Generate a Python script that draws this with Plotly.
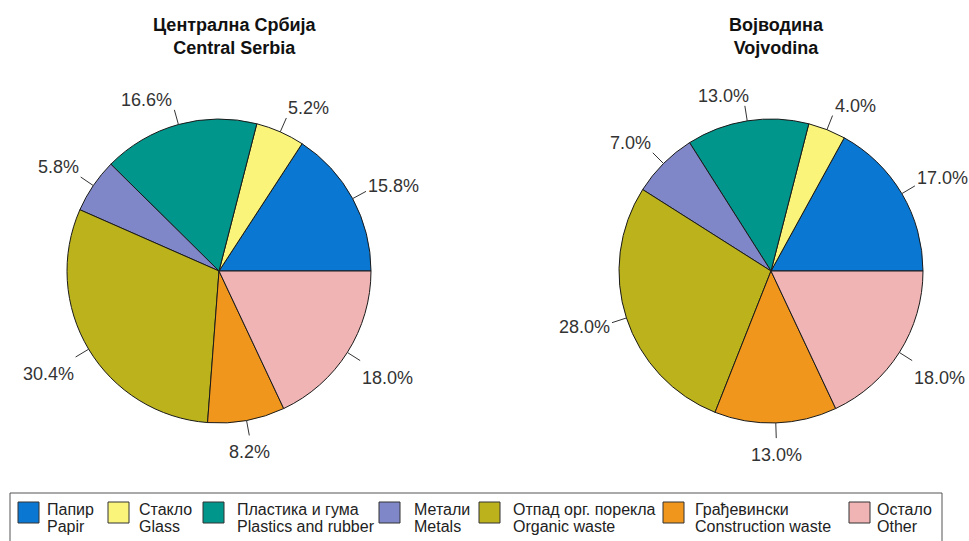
import math
import plotly.graph_objects as go

# ---------------- data ----------------
categories_sr = ["Папир", "Стакло", "Пластика и гума", "Метали",
                 "Отпад орг. порекла", "Грађевински", "Остало"]
categories_en = ["Papir", "Glass", "Plastics and rubber", "Metals",
                 "Organic waste", "Construction waste", "Other"]
central_serbia = [15.8, 5.2, 16.6, 5.8, 30.4, 8.2, 18.0]
vojvodina = [17.0, 4.0, 13.0, 7.0, 28.0, 13.0, 18.0]
titles_sr = ["Централна Србија", "Војводина"]
titles_en = ["Central Serbia", "Vojvodina"]

# ---------------- styling / layout ----------------
colors = ["#0A78D2", "#FAF57A", "#00968C", "#7F87C8",
          "#BBB21C", "#F0961C", "#F0B4B4"]
W, H = 969, 541
R = 152
centers = [(219, 271), (771, 271)]
title_x = [235, 776]
FONT = "Liberation Sans, Arial, Helvetica, sans-serif"
legend_swatch_x = [18, 108, 203, 379, 479, 663, 849]
legend_text_x = [45, 137, 235, 412, 511, 693, 875]


def fx(x):
    return x / W


def fy(y):
    return 1 - y / H


def clip(v, lo, hi):
    return max(lo, min(hi, v))


def text_width(s, size=18):
    w = 0.0
    for ch in s:
        if ch.isdigit():
            w += 0.556
        elif ch == ".":
            w += 0.278
        elif ch == "%":
            w += 0.889
        else:
            w += 0.556
    return w * size


fig = go.Figure()
shapes = []
annotations = []

for (cx, cy), values, tsr, ten, tx in zip(centers, [central_serbia, vojvodina],
                                           titles_sr, titles_en, title_x):
    total = sum(values)
    fig.add_trace(go.Pie(
        values=values,
        labels=categories_en,
        sort=False,
        direction="counterclockwise",
        rotation=90 - 360 * values[0] / total,
        textinfo="none",
        hoverinfo="label+percent",
        marker=dict(colors=colors, line=dict(color="#1a1a1a", width=1)),
        domain=dict(x=[fx(cx - R), fx(cx + R)], y=[fy(cy + R), fy(cy - R)]),
        showlegend=False,
    ))
    cum = 0.0
    for v in values:
        th = 2 * math.pi * (cum + v / 2) / total
        cum += v
        c, s = math.cos(th), math.sin(th)
        x0, y0 = cx + R * c, cy - R * s
        x1, y1 = cx + 1.1 * R * c, cy - 1.1 * R * s
        shapes.append(dict(type="line", xref="paper", yref="paper",
                           x0=fx(x0), y0=fy(y0), x1=fx(x1), y1=fy(y1),
                           line=dict(color="#333333", width=1)))
        label = f"{v:.1f}%"
        w = text_width(label)
        if s > 0:
            sx = clip(c / 0.2, -1, 1)
            dy = 4 - 14 * clip((s - 0.3) / 0.25, 0, 1)
        else:
            sx = math.copysign(1, c) * clip((abs(c) - 0.18) / 0.08, 0, 1)
            dy = 4 + 13 * clip((-s - 0.3) / 0.2, 0, 1)
        tcx = x1 + sx * (w / 2 + 2)
        tcy = y1 + dy
        annotations.append(dict(x=fx(tcx), y=fy(tcy), xref="paper", yref="paper",
                                text=label, showarrow=False,
                                xanchor="center", yanchor="middle",
                                font=dict(family=FONT, size=18, color="#333333")))
    annotations.append(dict(x=fx(tx), y=fy(37), xref="paper", yref="paper",
                            text=f"<b>{tsr}</b><br><b>{ten}</b>", showarrow=False,
                            xanchor="center", yanchor="middle",
                            font=dict(family=FONT, size=18, color="#111111")))

# ---------------- custom legend ----------------
shapes.append(dict(type="rect", xref="paper", yref="paper",
                   x0=fx(10), y0=fy(493), x1=fx(942), y1=fy(560),
                   line=dict(color="#555555", width=1), fillcolor="rgba(0,0,0,0)"))
for sx_, tx_, col, sr, en in zip(legend_swatch_x, legend_text_x, colors,
                                 categories_sr, categories_en):
    shapes.append(dict(type="rect", xref="paper", yref="paper",
                       x0=fx(sx_), y0=fy(523), x1=fx(sx_ + 21), y1=fy(502),
                       line=dict(color="#333333", width=1), fillcolor=col))
    annotations.append(dict(x=fx(tx_), y=fy(509), xref="paper", yref="paper",
                            text=sr, showarrow=False, xanchor="left", yanchor="middle",
                            font=dict(family=FONT, size=16, color="#222222")))
    annotations.append(dict(x=fx(tx_), y=fy(526), xref="paper", yref="paper",
                            text=en, showarrow=False, xanchor="left", yanchor="middle",
                            font=dict(family=FONT, size=16, color="#222222")))

fig.update_layout(
    width=W, height=H,
    margin=dict(l=0, r=0, t=0, b=0),
    paper_bgcolor="white", plot_bgcolor="white",
    shapes=shapes, annotations=annotations,
    showlegend=False,
)

fig.write_html("out.html",
               config={"displayModeBar": False},
               post_script="document.body.style.margin='0px';"
                           "document.body.style.overflow='hidden';")
